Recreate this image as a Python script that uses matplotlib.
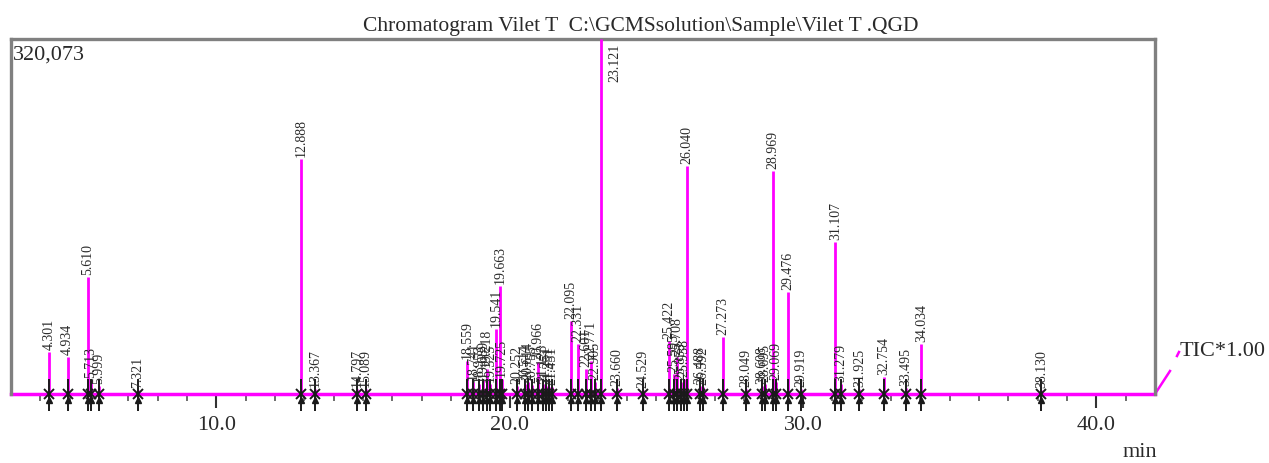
import matplotlib
matplotlib.use("Agg")
import matplotlib.pyplot as plt
import numpy as np

# ── data ─────────────────────────────────────────────────────────────────────

retention_times = [4.301, 4.934, 5.610, 5.713, 5.999, 7.321, 12.888, 13.367,
                   14.797, 15.089, 18.559, 18.741, 18.953, 19.089, 19.218,
                   19.325, 19.541, 19.663, 19.725, 20.252, 20.514, 20.614,
                   20.755, 20.966, 21.123, 21.251, 21.351, 21.451, 22.095,
                   22.331, 22.601, 22.771, 22.905, 23.121, 23.660, 24.529,
                   25.422, 25.595, 25.708, 25.853, 25.938, 26.040, 26.488,
                   26.592, 27.273, 28.049, 28.608, 28.695, 28.969, 29.069,
                   29.476, 29.919, 31.107, 31.279, 31.925, 32.754, 33.495,
                   34.034, 38.130]

intensities = [37870, 33360, 105490, 12620, 7210, 3610, 211880, 4510,
               4510, 4510, 29750, 10820, 9020, 12620, 22540,
               9020, 58600, 97370, 13520, 7210, 9020, 10820,
               8110, 28850, 9020, 7210, 6310, 6310, 65820,
               45080, 22540, 29750, 10820, 320073, 5410, 3610,
               47780, 18030, 33360, 10820, 13520, 205560, 7210,
               6310, 51390, 4510, 7210, 9020, 201060, 10820,
               91960, 4510, 137040, 9020, 4510, 15330, 5410,
               45080, 3610]

y_max = 320073
x_range = (3.0, 42.0)
major_ticks = [10.0, 20.0, 30.0, 40.0]
title = r"Chromatogram Vilet T  C:\GCMSsolution\Sample\Vilet T .QGD"

MAGENTA = "#ff00ff"
FRAME = "#808080"
TXT = "#2a2a2a"

plt.rcParams["font.family"] = ["Liberation Serif", "DejaVu Serif"]

fig = plt.figure(figsize=(12.69, 4.64), dpi=100)
ax = fig.add_axes([11 / 1269, 1 - 395 / 464, (1155 - 11) / 1269, (395 - 40) / 464])

px = y_max / 355.0          # intensity per pixel
mpx = 1 / 29.35             # minutes per pixel

ax.set_xlim(*x_range)
ax.set_ylim(0, y_max)

# peaks
ax.vlines(retention_times, 0, intensities, color=MAGENTA, linewidth=2.0, zorder=3)
ax.plot(x_range, [0, 0], color=MAGENTA, linewidth=2.5, zorder=2, clip_on=False)

# peak start/stop markers
ax.vlines(retention_times, -17 * px, 15 * px, color="#1a1a1a", linewidth=1.4,
          clip_on=False, zorder=4)
ax.plot(retention_times, [0] * len(retention_times), "x", color="#1a1a1a",
        markersize=7, mew=1.4, clip_on=False, zorder=5)
ax.plot(retention_times, [-6 * px] * len(retention_times), "^", color="#1a1a1a",
        markersize=5, clip_on=False, zorder=5)

# peak labels
for t, h in zip(retention_times, intensities):
    if h >= y_max:
        ax.text(t + 0.25, h - 4 * px, f"{t:.3f}", rotation=90, ha="left", va="top",
                fontsize=10, color=TXT, zorder=6)
    else:
        ax.text(t, h + 3 * px, f"{t:.3f}", rotation=90, ha="center", va="bottom",
                fontsize=10, color=TXT, zorder=6, clip_on=False)

# frame
for side in ("left", "top", "right"):
    ax.spines[side].set_color(FRAME)
    ax.spines[side].set_linewidth(2.4)
ax.spines["bottom"].set_visible(False)

ax.set_yticks([])
ax.set_xticks(major_ticks)
ax.set_xticklabels([f"{v:.1f}" for v in major_ticks], fontsize=16, color=TXT)
ax.set_xticks(np.arange(4, 42, 1.0), minor=True)
ax.tick_params(axis="x", which="major", direction="out", length=10, width=1.5,
               color="#333333", pad=5)
ax.tick_params(axis="x", which="minor", direction="out", length=5, width=1.2,
               color="#555555")

ax.text(0.002, 0.985, f"{y_max:,}", transform=ax.transAxes, ha="left", va="top",
        fontsize=16, color=TXT)

# TIC trace tail outside the frame
ax.plot([x_range[1], x_range[1] + 15 * mpx], [0, 23 * px], color=MAGENTA,
        linewidth=1.8, clip_on=False)
ax.plot([x_range[1] + 22 * mpx, x_range[1] + 24 * mpx], [38 * px, 42 * px],
        color=MAGENTA, linewidth=1.8, clip_on=False)
ax.text(x_range[1] + 25 * mpx, 43 * px, "TIC*1.00", ha="left", va="center",
        fontsize=16, color=TXT, clip_on=False)

fig.text(1140 / 1269, 1 - 453 / 464, "min", ha="center", va="center",
         fontsize=16, color=TXT)
fig.text(641 / 1269, 1 - 27 / 464, title, ha="center", va="center",
         fontsize=15.5, color=TXT)

fig.savefig("out.png", dpi=100)
